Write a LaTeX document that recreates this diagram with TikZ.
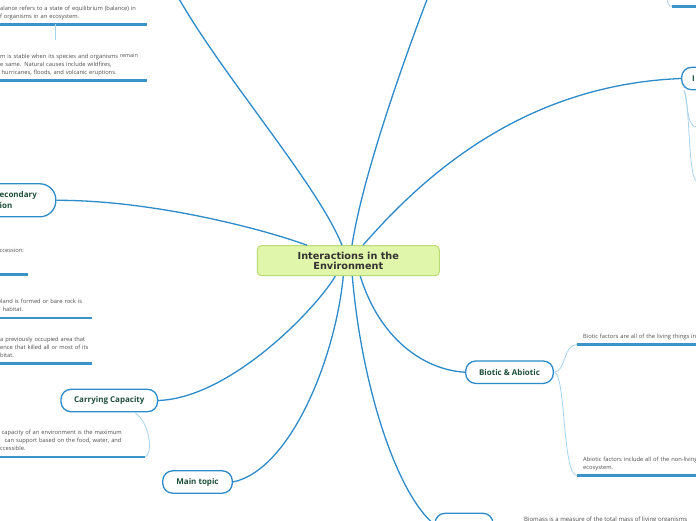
\documentclass[tikz,border=0pt]{standalone}
\usepackage{fontspec}
\setmainfont{Open Sans}
\newfontfamily\headfont{DejaVu Sans}
\usetikzlibrary{positioning}
\definecolor{branchblue}{HTML}{2E8BC9}
\definecolor{twigblue}{HTML}{A6D4EF}
\definecolor{lineblue}{HTML}{3A93C9}
\definecolor{topicgreen}{HTML}{1E4F3B}
\definecolor{notegray}{HTML}{4D4D4D}
\definecolor{envfill}{HTML}{E0F6AA}
\definecolor{envdraw}{HTML}{B9DB72}

\begin{document}
\begin{tikzpicture}[x=1pt, y=-1pt,
        env/.style={draw=envdraw, fill=envfill, line width=1pt, rounded corners=4pt,
                    minimum width=182pt, minimum height=30pt, align=center,
                    font=\headfont\bfseries\fontsize{9.7}{10}\selectfont, text=black!80},
        topic/.style={draw=branchblue, fill=white, line width=1.3pt, rounded corners=10pt,
                      minimum height=22.4pt, inner xsep=0pt, text=topicgreen,
                      font=\bfseries\fontsize{8}{10}\selectfont},
        topictext/.style={inner sep=0pt, align=left, text=topicgreen,
                          font=\bfseries\fontsize{8}{11}\selectfont},
        note/.style={inner xsep=0pt, inner ysep=3.6pt, align=left, text=notegray,
                     font=\fontsize{5.75}{8}\selectfont, execute at end node=\strut},
        branch/.style={draw=branchblue, line width=1.3pt},
        twig/.style={draw=twigblue, line width=0.8pt},
        uline/.style={draw=lineblue, line width=2.4pt}
      ]
        \useasboundingbox (0,0) rectangle (696,520);
        \fill[white] (0,0) rectangle (696,520);
        \clip (0,0) rectangle (696,520);

        \node[env] (env) at (348.3,260.7) {Interactions in the\\Environment};

        \node[topic, minimum width=110pt, rounded corners=16pt, minimum height=33pt, anchor=east] (succ) at (56.5,200.3) {};
        \node[topictext, anchor=west] (succtxt) at (-0.5,200.3) {econdary\\ion};
        \node[topic, minimum width=96.6pt] (carry) at (109.3,400.5) {Carrying Capacity};
        \node[topic, minimum width=69.6pt] (mtopic) at (197.5,482) {Main topic};
        \node[topic, minimum width=87.6pt] (bioab) at (509.5,372.2) {Biotic \& Abiotic};
        \node[topic, minimum width=60pt, anchor=west] (inode) at (681,78.5) {};
        \node[topictext, anchor=west] (itxt) at (692,78.5) {I};
        \node[topic, minimum width=58pt] (bnode) at (464,524.5) {};

        \coordinate (tlend) at (178,-3);
        \coordinate (tend) at (428,-3);

        \draw[branch] ([xshift=-6.3pt]env.north) .. controls (318,185) and (222,75) .. (tlend);
        \draw[branch] ([xshift=3.7pt]env.north) .. controls (362,180) and (400,70) .. (tend);
        \draw[branch] ([xshift=14.7pt]env.north) .. controls (420,180) and (520,85) .. (inode.west);
        \draw[branch] (succ.east) .. controls (150,200) and (260,228) .. ([xshift=-41.3pt]env.north);
        \draw[branch] (carry.east) .. controls (230,398) and (315,310) .. ([xshift=-13pt]env.south);
        \draw[branch] (mtopic.east) .. controls (290,470) and (335,360) .. ([xshift=-5pt]env.south);
        \draw[branch] ([xshift=4pt]env.south) .. controls (362,390) and (398,495) .. (bnode.west);
        \draw[branch] ([xshift=12pt]env.south) .. controls (380,340) and (425,370) .. (bioab.west);

        \node[note, text width=150.6pt, anchor=south west] (e1) at (-3.6,24.3)
          {balance refers to a state of equilibrium (balance) in\\of organisms in an ecosystem.};
        \node[note, text width=147pt, anchor=south west] (e2) at (0,80.3)
          {m is stable when its species and organisms {\fontsize{5.4}{6}\selectfont\raisebox{0.8pt}{remain}}\\e same. Natural causes include wildfires,\\\hspace*{1.5pt}hurricanes, floods, and volcanic eruptions.};
        \node[note, text width=28.5pt, anchor=south west] (s0) at (-0.5,274.3) {ccession:\\~\\~};
        \node[note, text width=95.5pt, anchor=south west] (s1) at (-3.5,317.7)
          {wland is formed or bare rock is\\\hspace*{6pt}habitat.};
        \node[note, text width=92pt, anchor=south west] (s2) at (0,363.3)
          {a previously occupied area that\\ence that killed all or most of its\\bitat.};
        \node[note, text width=145pt, anchor=south west] (cc) at (0,456.7)
          {\hspace*{1.5pt}capacity of an environment is the maximum\\\hspace*{4.5pt}can support based on the food, water, and\\ccessible.};
        \node[note, inner xsep=6pt, text width=150pt, anchor=south west] (bio1) at (577,344.5)
          {Biotic factors are all of the living things in};
        \node[note, inner xsep=6pt, text width=150pt, anchor=south west] (bio2) at (577,475.5)
          {Abiotic factors include all of the non-living\\ecosystem.};
        \node[note, inner xsep=6pt, text width=40pt, anchor=south west] (trnote) at (672,6.5) {};
        \node[note, font=\fontsize{6}{8}\selectfont, anchor=base west] (bmnote) at (524,521.5)
          {Biomass is a measure of the total mass of living organisms};

        \foreach \n in {e1,e2,s0,s1,s2,cc,bio1,bio2,trnote}
          \draw[uline] (\n.south west) -- (\n.south east);

        \coordinate (trtop) at (667,-4);
        \coordinate (ic1) at (697,127);
        \coordinate (ic2) at (697,181);
        \draw[twig, shorten >=10pt] ([xshift=58.6pt]e1.south west) -- ([xshift=55pt]e2.north west);
        \draw[twig] (carry.-25) .. controls (152,425) and (152,455) .. (cc.south east);
        \draw[twig] (bioab.east) .. controls (566,372) and (563,344.5) .. (bio1.south west);
        \draw[twig] (bioab.east) .. controls (566,372) and (562,475.5) .. (bio2.south west);
        \draw[twig] (trtop) .. controls (667,3) and (669,6.5) .. (trnote.south west);
        \draw[twig] ([xshift=3pt]inode.south west) .. controls (688,100) and (686,127) .. (ic1);
        \draw[twig] ([xshift=3pt]inode.south west) .. controls (690,100) and (688,181) .. (ic2);
      \end{tikzpicture}
\end{document}
